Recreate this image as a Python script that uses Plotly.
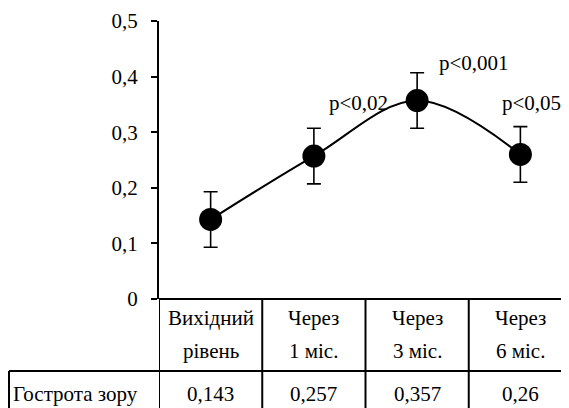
import plotly.graph_objects as go

categories = ["Вихідний рівень", "Через 1 міс.", "Через 3 міс.", "Через 6 міс."]
series_name = "Гострота зору"
values = [0.143, 0.257, 0.357, 0.26]
errors = [0.05, 0.05, 0.05, 0.05]
p_labels = ["", "p<0,02", "p<0,001", "p<0,05"]
y_ticks = [0, 0.1, 0.2, 0.3, 0.4, 0.5]
y_tick_labels = ["0", "0,1", "0,2", "0,3", "0,4", "0,5"]

FONT = "'Liberation Serif', 'Times New Roman', Times, serif"
FS = 21
OFF = 8  # page body margin
W, H = 569 - OFF, 408 - OFF
L, T = 159 - OFF, 21 - OFF
AXIS_BOTTOM = 299 - OFF
B = H - AXIS_BOTTOM
plot_w = W - L
plot_h = AXIS_BOTTOM - T
col_w = 103.25
x_idx = list(range(len(values)))

def py(ref_y):
    return (AXIS_BOTTOM - (ref_y - OFF)) / plot_h

def px(ref_x):
    return ((ref_x - OFF) - L) / plot_w

fig = go.Figure()
fig.add_trace(go.Scatter(
    x=x_idx, y=values,
    mode="lines+markers",
    line=dict(color="black", width=2, shape="spline", smoothing=1.0),
    marker=dict(color="black", size=23),
    error_y=dict(type="data", array=errors, color="black", thickness=1.6, width=7),
    showlegend=False,
    cliponaxis=False,
))

shapes = []
row_y = py(371)
bottom_y = py(420)
shapes.append(dict(type="line", xref="paper", yref="paper",
                   x0=px(9), x1=1.05, y0=row_y, y1=row_y,
                   line=dict(color="black", width=2)))
shapes.append(dict(type="line", xref="paper", yref="paper",
                   x0=0, x1=1.05, y0=0, y1=0,
                   line=dict(color="black", width=2)))
for i in range(len(values)):
    shapes.append(dict(type="line", xref="x", yref="paper",
                       x0=i - 0.5, x1=i - 0.5, y0=0, y1=bottom_y,
                       line=dict(color="black", width=2)))
shapes.append(dict(type="line", xref="paper", yref="paper",
                   x0=px(9), x1=px(9), y0=row_y, y1=bottom_y,
                   line=dict(color="black", width=2)))

tfont = dict(family=FONT, size=FS, color="black")
annotations = []
for i, (c, v) in enumerate(zip(categories, values)):
    line1, line2 = c.split(" ", 1)
    annotations.append(dict(x=i, y=py(318), xref="x", yref="paper", text=line1,
                            showarrow=False, font=tfont, yanchor="middle"))
    annotations.append(dict(x=i, y=py(351), xref="x", yref="paper", text=line2,
                            showarrow=False, font=tfont, yanchor="middle"))
    annotations.append(dict(x=i, y=py(394), xref="x", yref="paper",
                            text=str(v).replace(".", ","), showarrow=False,
                            font=tfont, yanchor="middle"))
annotations.append(dict(x=px(11), y=py(394), xref="paper", yref="paper",
                        text=series_name, showarrow=False, xanchor="left", yanchor="middle",
                        font=tfont))

p_offsets = [(0, 0), (0.43, 0.095), (0.55, 0.067), (0.11, 0.092)]
for i, (lab, (dx, dy)) in enumerate(zip(p_labels, p_offsets)):
    if lab:
        annotations.append(dict(x=i + dx, y=values[i] + dy, xref="x", yref="y",
                                text=lab, showarrow=False, xanchor="center", yanchor="middle",
                                font=tfont))

fig.update_layout(
    width=W, height=H,
    margin=dict(l=L, r=0, t=T, b=B, pad=0),
    plot_bgcolor="white", paper_bgcolor="white",
    shapes=shapes, annotations=annotations,
    font=tfont,
    xaxis=dict(range=[-0.5, -0.5 + plot_w / col_w], showticklabels=False, showgrid=False,
               zeroline=False, showline=False, ticks=""),
    yaxis=dict(range=[0, 0.5], tickvals=y_ticks, ticktext=y_tick_labels,
               showgrid=False, zeroline=False, showline=True, linecolor="black", linewidth=2,
               ticks="outside", ticklen=6, tickwidth=2, tickcolor="black",
               ticklabelstandoff=9,
               tickfont=tfont),
)

fig.write_html("out.html")
